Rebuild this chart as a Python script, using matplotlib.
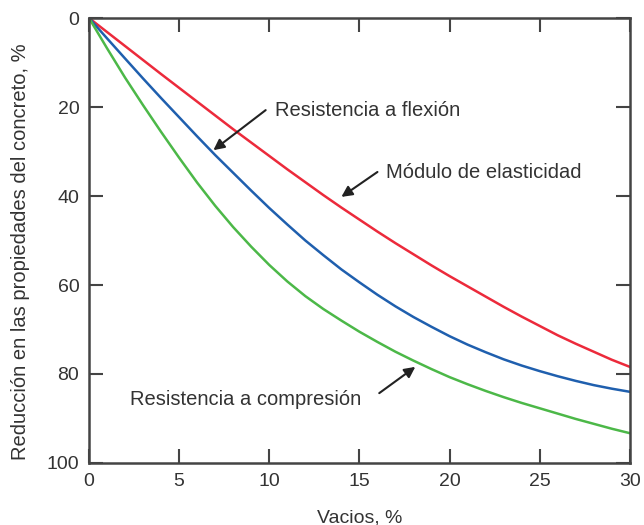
import numpy as np
import matplotlib
matplotlib.use("Agg")
from matplotlib import pyplot as plt

matplotlib.rc("font", family=["Liberation Sans", "DejaVu Sans"])

# datos
vacios = list(range(0, 31))
modulo = [0, 3.15, 6.3, 9.45, 12.6, 15.7, 18.8, 21.9, 25, 28, 31,
          34, 36.9, 39.8, 42.6, 45.3, 48, 50.6, 53.1, 55.6, 58,
          60.3, 62.6, 64.9, 67.1, 69.2, 71.3, 73.2, 75, 76.8, 78.4]
flexion = [0, 4.57, 9.1, 13.6, 18, 22.3, 26.6, 30.8, 34.8, 38.8, 42.7,
           46.4, 50, 53.3, 56.5, 59.4, 62.2, 64.8, 67.2, 69.4, 71.5,
           73.4, 75.1, 76.7, 78.1, 79.35, 80.5, 81.55, 82.5, 83.3, 84]
compresion = [0, 6.8, 13.4, 19.6, 25.6, 31.4, 37, 42.2, 47, 51.4, 55.5,
              59.2, 62.5, 65.4, 68, 70.5, 72.8, 75, 77, 78.9, 80.7,
              82.3, 83.8, 85.2, 86.5, 87.7, 88.9, 90.1, 91.2, 92.3, 93.3]

x_ticks = [0, 5, 10, 15, 20, 25, 30]
y_ticks = [0, 20, 40, 60, 80, 100]

txt = "#333333"

fig = plt.figure(figsize=(6.44, 5.25), dpi=100)
ax = fig.add_axes([0.1382, 0.1181, 0.8398, 0.8476])

ax.plot(vacios, modulo, color="#ec2a3b", lw=1.8)
ax.plot(vacios, flexion, color="#1f5fae", lw=1.8)
ax.plot(vacios, compresion, color="#4cb848", lw=1.8)

ax.set_xlim(0, 30)
ax.set_ylim(100, 0)
ax.set_xticks(x_ticks)
ax.set_yticks(y_ticks)
ax.tick_params(direction="in", length=10, width=1.5, color="#444444",
               top=True, right=True, labelsize=14, labelcolor=txt, pad=7)
for s in ax.spines.values():
    s.set_linewidth(1.8)
    s.set_color("#444444")

ax.set_xlabel("Vacios, %", fontsize=14, color=txt, labelpad=14)
ax.set_ylabel("Reducción en las propiedades del concreto, %", fontsize=14.5, color=txt)
ax.yaxis.set_label_coords(-0.11, 0.475)

arrow = dict(arrowstyle="-|>", color="#222222", lw=1.5, mutation_scale=16, shrinkA=0, shrinkB=0)
fs = 14.5
ax.annotate("", xy=(6.9, 29.7), xytext=(9.8, 20.7), arrowprops=arrow)
ax.text(10.3, 20.7, "Resistencia a flexión", fontsize=fs, color=txt, va="center")

ax.annotate("", xy=(14.0, 40.2), xytext=(16.0, 34.6), arrowprops=arrow)
ax.text(16.5, 34.8, "Módulo de elasticidad", fontsize=fs, color=txt, va="center")

ax.annotate("", xy=(18.1, 78.4), xytext=(16.1, 84.3), arrowprops=arrow)
ax.text(2.27, 85.8, "Resistencia a compresión", fontsize=fs, color=txt, va="center")

fig.savefig("out.png", dpi=100)
